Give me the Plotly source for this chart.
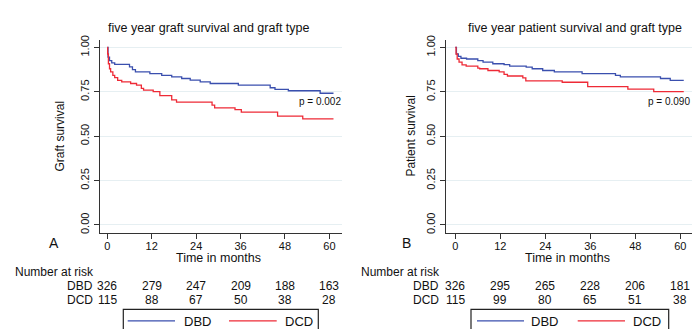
import plotly.graph_objects as go

W, H = 692, 329

# ---------------- data ----------------
months_ticks = [0, 12, 24, 36, 48, 60]

graft_dbd_t = [0, 0.2, 0.6, 1.2, 2.0, 6.0, 6.8, 7.6, 11.5, 14.7, 17.4, 20.1, 22.4, 25.1, 27.8, 35.4, 44.0, 45.3, 48.9, 57.5, 61.1]
graft_dbd_s = [1.0, 0.945, 0.926, 0.913, 0.905, 0.89, 0.875, 0.862, 0.852, 0.843, 0.834, 0.825, 0.816, 0.806, 0.797, 0.788, 0.773, 0.764, 0.756, 0.742, 0.742]

graft_dcd_t = [0, 0.1, 0.3, 0.6, 0.9, 1.5, 2.0, 2.8, 3.9, 6.3, 7.9, 9.2, 9.8, 12.4, 14.2, 17.4, 18.7, 28.3, 29.0, 34.5, 36.2, 46.0, 52.8, 61.1]
graft_dcd_s = [1.0, 0.963, 0.908, 0.88, 0.862, 0.843, 0.83, 0.815, 0.806, 0.797, 0.788, 0.769, 0.76, 0.751, 0.729, 0.705, 0.692, 0.675, 0.659, 0.65, 0.636, 0.613, 0.598, 0.598]

pat_dbd_t = [0, 0.3, 0.8, 1.5, 3.0, 6.0, 7.4, 10.0, 13.0, 14.5, 18.9, 20.5, 23.3, 26.4, 33.8, 42.7, 44.0, 54.7, 57.3, 60.9]
pat_dbd_s = [1.0, 0.963, 0.95, 0.939, 0.935, 0.926, 0.917, 0.908, 0.903, 0.895, 0.889, 0.88, 0.87, 0.862, 0.852, 0.843, 0.834, 0.825, 0.815, 0.815]

pat_dcd_t = [0, 0.2, 0.5, 1.0, 1.8, 2.9, 6.0, 6.5, 8.7, 11.7, 13.0, 13.9, 18.0, 18.8, 28.5, 35.3, 46.0, 52.9, 60.9]
pat_dcd_s = [1.0, 0.963, 0.935, 0.917, 0.902, 0.895, 0.884, 0.88, 0.87, 0.862, 0.848, 0.839, 0.828, 0.812, 0.804, 0.779, 0.765, 0.751, 0.751]

graft_risk_dbd = [326, 279, 247, 209, 188, 163]
graft_risk_dcd = [115, 88, 67, 50, 38, 28]
pat_risk_dbd = [326, 295, 265, 228, 206, 181]
pat_risk_dcd = [115, 99, 80, 65, 51, 38]

titles = ["five year graft survival and graft type", "five year patient survival and graft type"]
ytitles = ["Graft survival", "Patient survival"]
pvals = ["p = 0.002", "p = 0.090"]
panel_letters = ["A", "B"]

BLUE = "#3a4fae"
RED = "#ee2a36"
AXC = "#333333"
TXT = "#111111"
FONT = "Liberation Sans, Arial, sans-serif"


def px(x):
    return x / W


def py(y):
    return 1 - y / H


fig = go.Figure()

fig.add_trace(go.Scatter(x=graft_dbd_t, y=graft_dbd_s, mode="lines", line=dict(color=BLUE, width=1.3, shape="hv"),
                         xaxis="x", yaxis="y", showlegend=False, hoverinfo="skip"))
fig.add_trace(go.Scatter(x=graft_dcd_t, y=graft_dcd_s, mode="lines", line=dict(color=RED, width=1.3, shape="hv"),
                         xaxis="x", yaxis="y", showlegend=False, hoverinfo="skip"))
fig.add_trace(go.Scatter(x=pat_dbd_t, y=pat_dbd_s, mode="lines", line=dict(color=BLUE, width=1.3, shape="hv"),
                         xaxis="x2", yaxis="y2", showlegend=False, hoverinfo="skip"))
fig.add_trace(go.Scatter(x=pat_dcd_t, y=pat_dcd_s, mode="lines", line=dict(color=RED, width=1.3, shape="hv"),
                         xaxis="x2", yaxis="y2", showlegend=False, hoverinfo="skip"))

ydom = [py(232), py(36)]
yvals = [0, 0.25, 0.5, 0.75, 1.0]
ytext = ["0.00", "0.25", "0.50", "0.75", "1.00"]

xcommon = dict(tickvals=months_ticks, ticks="outside", ticklen=5, tickwidth=1.2, tickcolor=AXC,
               showline=True, linecolor=AXC, linewidth=1.3, showgrid=False, zeroline=False,
               ticklabelstandoff=-2,
               tickfont=dict(family=FONT, size=11, color=TXT))
ycommon = dict(range=[-0.044, 1.04], tickvals=yvals, ticktext=ytext, tickangle=-90, ticks="outside", ticklen=5,
               tickwidth=1.2, tickcolor=AXC, showline=True, linecolor=AXC, linewidth=1.3, showgrid=True,
               gridcolor="#e6eff2", gridwidth=1, zeroline=False, tickfont=dict(family=FONT, size=11, color=TXT),
               domain=ydom)

fig.update_layout(
    width=W, height=H, margin=dict(l=0, r=0, t=0, b=0),
    paper_bgcolor="white", plot_bgcolor="white",
    xaxis=dict(domain=[px(100), px(342)], range=[-1.97, 63.4], anchor="y", **xcommon),
    yaxis=dict(anchor="x", **ycommon),
    xaxis2=dict(domain=[px(446), 1.0], range=[-2.48, 63.1], anchor="y2", **xcommon),
    yaxis2=dict(anchor="x2", **ycommon),
    showlegend=False,
)

ann = []
shapes = []
panels = [
    dict(xr="x", left=0, title_x=209, ytitle_x=60, letter_x=54, nar_x=13, lab_r=95,
         risk=(graft_risk_dbd, graft_risk_dcd), p_x=343,
         box=(123.3, 318.3), legl=(127.7, 175, 181.7, 229, 276.7, 283)),
    dict(xr="x2", left=346, title_x=575, ytitle_x=411, letter_x=406, nar_x=359, lab_r=441,
         risk=(pat_risk_dbd, pat_risk_dcd), p_x=692,
         box=(471, 668.7), legl=(477, 524, 529, 577.7, 625, 631)),
]

for i, p in enumerate(panels):
    ann.append(dict(text=titles[i], x=px(p["title_x"]), y=py(23), xref="paper", yref="paper",
                    xanchor="center", yanchor="middle", showarrow=False,
                    font=dict(family=FONT, size=12.5, color=TXT)))
    ann.append(dict(text=ytitles[i], x=px(p["ytitle_x"]), y=py(134), xref="paper", yref="paper", textangle=-90,
                    xanchor="center", yanchor="middle", showarrow=False,
                    font=dict(family=FONT, size=12, color=TXT)))
    ann.append(dict(text=panel_letters[i], x=px(p["letter_x"]), y=py(242.5), xref="paper", yref="paper",
                    xanchor="center", yanchor="middle", showarrow=False,
                    font=dict(family=FONT, size=14, color=TXT)))
    ann.append(dict(text="Time in months", x=30, y=py(258), xref=p["xr"], yref="paper",
                    xanchor="center", yanchor="middle", showarrow=False,
                    font=dict(family=FONT, size=12.5, color=TXT)))
    ann.append(dict(text=pvals[i], x=px(p["p_x"]), y=py(98), xref="paper", yref="paper",
                    xanchor="right", yanchor="middle", showarrow=False,
                    font=dict(family=FONT, size=10, color=TXT)))
    ann.append(dict(text="Number at risk", x=px(p["nar_x"]), y=py(272), xref="paper", yref="paper",
                    xanchor="left", yanchor="middle", showarrow=False,
                    font=dict(family=FONT, size=12, color=TXT)))
    for lab, vals, yy in (("DBD", p["risk"][0], 286), ("DCD", p["risk"][1], 300)):
        ann.append(dict(text=lab, x=px(p["lab_r"]), y=py(yy), xref="paper", yref="paper",
                        xanchor="right", yanchor="middle", showarrow=False,
                        font=dict(family=FONT, size=12, color=TXT)))
        for t, v in zip(months_ticks, vals):
            ann.append(dict(text=str(v), x=t, y=py(yy), xref=p["xr"], yref="paper",
                            xanchor="center", yanchor="middle", showarrow=False,
                            font=dict(family=FONT, size=12, color=TXT)))
    # legend box
    bx0, bx1 = p["box"]
    shapes.append(dict(type="rect", xref="paper", yref="paper", x0=px(bx0), x1=px(bx1), y0=py(345), y1=py(310),
                       line=dict(color="#222", width=1.2), fillcolor="rgba(0,0,0,0)"))
    l1a, l1b, t1, l2a, l2b, t2 = p["legl"]
    shapes.append(dict(type="line", xref="paper", yref="paper", x0=px(l1a), x1=px(l1b), y0=py(321.7), y1=py(321.7),
                       line=dict(color=BLUE, width=1.3)))
    shapes.append(dict(type="line", xref="paper", yref="paper", x0=px(l2a), x1=px(l2b), y0=py(321.7), y1=py(321.7),
                       line=dict(color=RED, width=1.3)))
    ann.append(dict(text="DBD", x=px(t1), y=py(322), xref="paper", yref="paper", xanchor="left", yanchor="middle",
                    showarrow=False, font=dict(family=FONT, size=13, color=TXT)))
    ann.append(dict(text="DCD", x=px(t2), y=py(322), xref="paper", yref="paper", xanchor="left", yanchor="middle",
                    showarrow=False, font=dict(family=FONT, size=13, color=TXT)))

fig.update_layout(annotations=ann, shapes=shapes)
fig.write_html("out.html")
